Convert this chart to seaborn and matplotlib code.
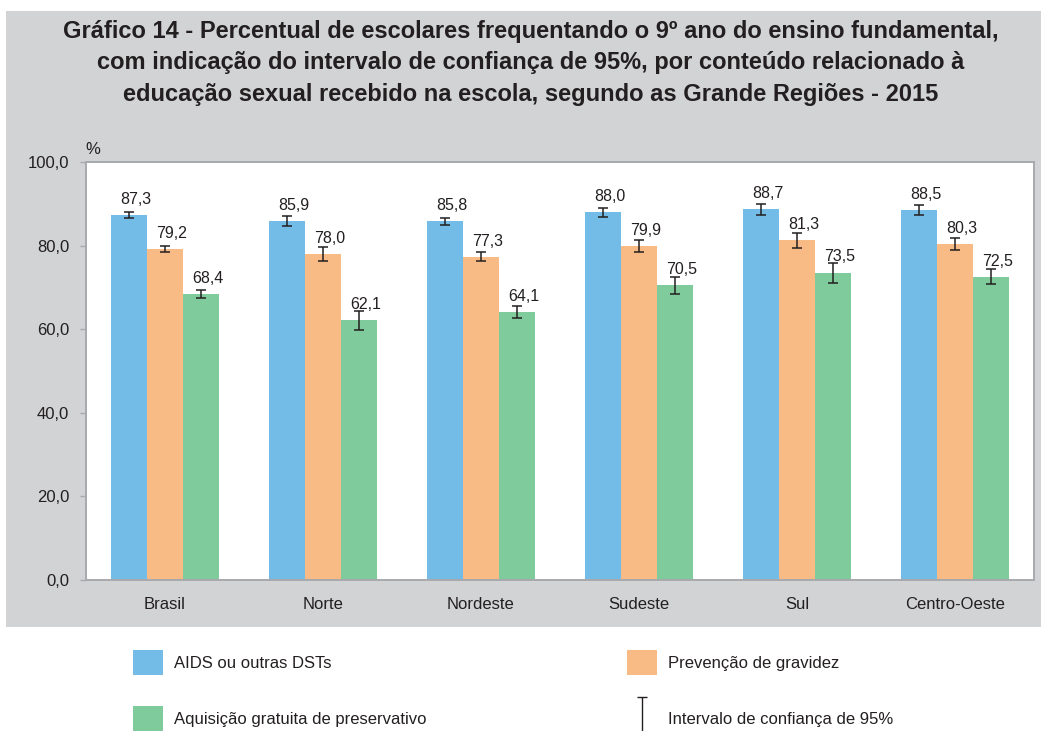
import pandas as pd
import matplotlib
matplotlib.use("Agg")
import matplotlib.pyplot as plt
from matplotlib.patches import Patch, Rectangle
from matplotlib.lines import Line2D
from matplotlib.path import Path
import seaborn as sns

# Data
regioes = ['Brasil', 'Norte', 'Nordeste', 'Sudeste', 'Sul', 'Centro-Oeste']
aids = [87.3, 85.9, 85.8, 88.0, 88.7, 88.5]
prevencao = [79.2, 78.0, 77.3, 79.9, 81.3, 80.3]
aquisicao = [68.4, 62.1, 64.1, 70.5, 73.5, 72.5]
# half widths of 95% confidence intervals (estimated)
aids_ic = [0.7, 1.2, 0.9, 1.1, 1.35, 1.2]
prevencao_ic = [0.7, 1.6, 1.1, 1.4, 1.8, 1.4]
aquisicao_ic = [1.0, 2.2, 1.5, 2.0, 2.4, 1.8]

series = ['AIDS ou outras DSTs', 'Prevenção de gravidez', 'Aquisição gratuita de preservativo']
colors = ['#74bce8', '#f9bb85', '#80cb9b']
yticks = [0, 20, 40, 60, 80, 100]

df = pd.DataFrame({'regiao': regioes, series[0]: aids, series[1]: prevencao, series[2]: aquisicao})
df = df.melt(id_vars='regiao', var_name='conteudo', value_name='valor')

plt.rcParams['font.family'] = ['Liberation Sans', 'DejaVu Sans']
txt = '#231f20'
edge = '#a7a9ac'

fig = plt.figure(figsize=(10.41, 7.31), dpi=100)
fig.patch.set_facecolor('white')
fig.add_artist(Rectangle((6 / 1041, 1 - 627 / 731), 1035 / 1041, 616 / 731,
                         transform=fig.transFigure, facecolor='#d1d3d4',
                         edgecolor='none', zorder=-10))

ax = fig.add_axes([86 / 1041, 1 - 580 / 731, 948 / 1041, 418 / 731])
sns.barplot(data=df, x='regiao', y='valor', hue='conteudo', hue_order=series,
            palette=colors, width=0.68, gap=0, errorbar=None, saturation=1,
            legend=False, ax=ax)

for cont, ic in zip(ax.containers, [aids_ic, prevencao_ic, aquisicao_ic]):
    xs = [b.get_x() + b.get_width() / 2 for b in cont]
    hs = [b.get_height() for b in cont]
    ax.errorbar(xs, hs, yerr=ic, fmt='none', ecolor=txt, elinewidth=1.1,
                capsize=3.5, capthick=1.1, zorder=3)
    for x, h in zip(xs, hs):
        ax.annotate(f'{h:.1f}'.replace('.', ','), (x, h), xytext=(5, 6),
                    textcoords='offset points', ha='center', va='bottom',
                    fontsize=11.5, color=txt, zorder=4)

ax.set_xlim(-0.5, 5.5)
ax.set_ylim(0, 100)
ax.set_yticks(yticks)
ax.set_yticklabels([f'{v:.1f}'.replace('.', ',') for v in yticks], fontsize=12, color=txt)
ax.tick_params(axis='y', length=4, width=1, color=edge, pad=8)
ax.tick_params(axis='x', length=0, pad=12, labelsize=12, labelcolor=txt)
ax.set_xlabel('')
ax.set_ylabel('')
for s in ax.spines.values():
    s.set_color(edge)
    s.set_linewidth(1.4)
ax.set_facecolor('white')

fig.text(85 / 1041, 1 - 154 / 731, '%', fontsize=12, color=txt, ha='left', va='baseline')

fig.text(0.51, 1 - 63 / 731,
         'Gráfico 14 - Percentual de escolares frequentando o 9º ano do ensino fundamental,\n'
         'com indicação do intervalo de confiança de 95%, por conteúdo relacionado à\n'
         'educação sexual recebido na escola, segundo as Grande Regiões - 2015',
         ha='center', va='center', fontsize=17, fontweight='bold', color=txt,
         linespacing=1.45)

# legend
ic_marker = Path([(0, -1), (0, 1), (-0.3, 1), (0.3, 1)],
                 [Path.MOVETO, Path.LINETO, Path.MOVETO, Path.LINETO])
handles = [Patch(facecolor=colors[0]), Patch(facecolor=colors[2]),
           Patch(facecolor=colors[1]),
           Line2D([0], [0], marker=ic_marker, markersize=26, color=txt,
                  linestyle='none', markeredgewidth=1)]
labels = [series[0], series[2], series[1], 'Intervalo de confiança de 95%']
fig.legend(handles, labels, loc='upper left', bbox_to_anchor=(133 / 1041, 1 - 650 / 731),
           ncol=2, frameon=False, fontsize=12, handlelength=1.8, handleheight=1.9,
           handletextpad=0.65, columnspacing=12.05, labelspacing=1.9,
           borderaxespad=0, borderpad=0, labelcolor=txt)

fig.savefig('out.png', dpi=100)
